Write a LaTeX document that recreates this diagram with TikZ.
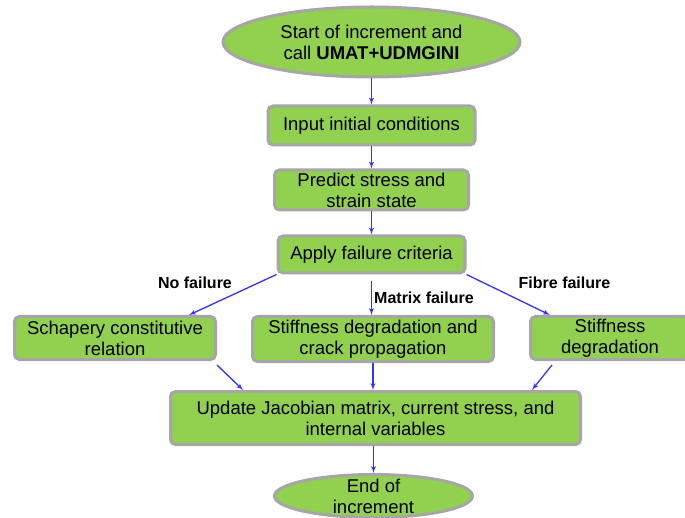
\documentclass[tikz,border=0pt]{standalone}
\usepackage{fontspec}
\setmainfont{Liberation Sans}
\usepackage{tikz}
\usetikzlibrary{arrows,shapes.geometric}
\definecolor{boxgreen}{RGB}{146,208,80}
\definecolor{boxgray}{RGB}{166,166,166}
\definecolor{edgeblue}{RGB}{51,51,255}
\tikzset{block/.style = {shape = rectangle, rounded corners = 5pt, draw = boxgray, line width = 3pt, fill = boxgreen, align = center, inner sep = 0pt, font = \fontsize{18.5}{21}\selectfont}}
\tikzset{terminal/.style = {block, shape = ellipse}}
\tikzset{edge/.style = {->,> = latex', draw = edgeblue, line width = 1.3pt}}
\tikzset{case/.style = {font = \fontsize{16}{19}\selectfont\bfseries}}

\begin{document}
\begin{tikzpicture}[x=1pt,y=-1pt]
			\useasboundingbox (0,0) rectangle (685,518);
			\node[terminal, minimum width = 297, minimum height = 70] (a) at (371.5, 42) {Start of increment and\\call \textbf{UMAT+UDMGINI}};
			\node[block, minimum width = 207, minimum height = 39] (b) at (371.5, 125.5) {Input initial conditions};
			\node[block, minimum width = 194, minimum height = 40] (c) at (371.5, 190) {Predict stress and\\strain state};
			\node[block, minimum width = 187, minimum height = 37] (d) at (371.5, 254.5) {Apply failure criteria};
			\node[block, minimum width = 201, minimum height = 43] (e) at (115, 338) {Schapery constitutive\\relation};
			\node[block, minimum width = 241, minimum height = 45] (f) at (373, 339) {Stiffness degradation and\\crack propagation};
			\node[block, minimum width = 159, minimum height = 43] (g) at (610, 338) {Stiffness\\degradation};
			\node[block, minimum width = 410, minimum height = 53] (h) at (375.5, 418) {Update Jacobian matrix, current stress, and\\internal variables};
			\node[terminal, inner ysep = -5pt, minimum width = 198, minimum height = 43] (i) at (373.5, 496) {End of\\increment};

			\node[case] (nf) at (195, 283) {No failure};
			\node[case] (mf) at (424, 298) {Matrix failure};
			\node[case] (ff) at (564.5, 283) {Fibre failure};

			\draw[edge] (a) to (b);
			\draw[edge] (b) to (c);
			\draw[edge] (c) to (d);
			\draw[edge] (d.south west) to ([xshift=-28pt]e.north east);
			\draw[edge] ([yshift=-7pt]d.south) to (d.south |- f.north);
			\draw[edge] (d.south east) to ([xshift=21pt]g.north west);
			\draw[edge] ([yshift=-4pt]e.south east) to ([xshift=74pt]h.north west);
			\draw[edge] (f) to (f.south |- h.north);
			\draw[edge] ([xshift=23pt,yshift=-4pt]g.south west) to ([xshift=-50pt]h.north east);
			\draw[edge] (h.south -| i.north) to (i);
		\end{tikzpicture}
\end{document}
